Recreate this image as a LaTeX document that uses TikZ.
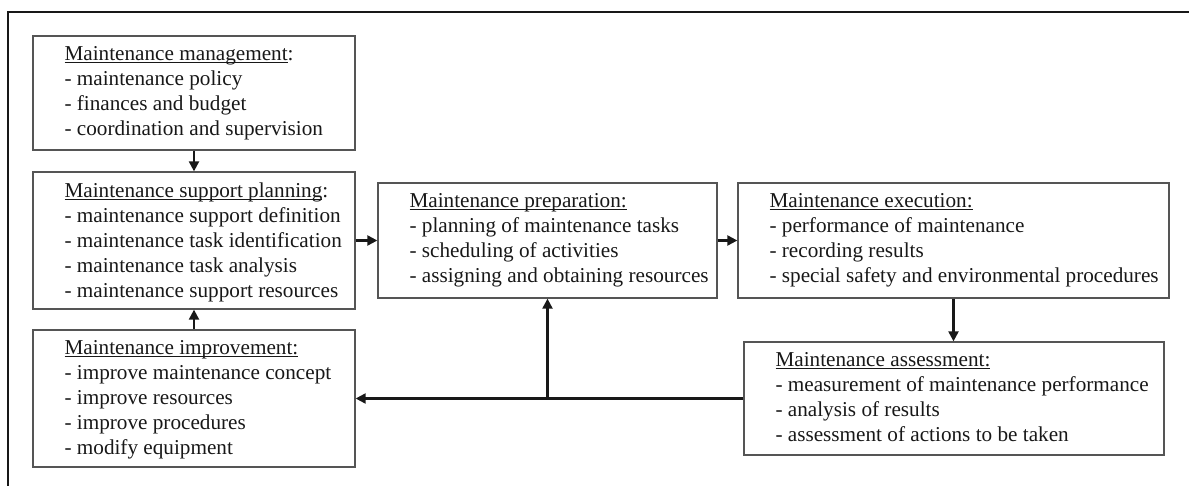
\documentclass[tikz,border=0pt]{standalone}
\usepackage{fontspec}
\setmainfont{Liberation Serif}
\usetikzlibrary{arrows.meta}
\definecolor{ink}{HTML}{181818}
\definecolor{boxline}{HTML}{555555}
\newsavebox{\myulbox}
\newcommand\myul[1]{\sbox{\myulbox}{#1}\rlap{\rule[-2.8pt]{\wd\myulbox}{0.9pt}}\usebox{\myulbox}}
\begin{document}
\begin{tikzpicture}[x=1pt,y=-1pt,
  box/.style={draw=boxline,line width=1.3pt,rectangle,inner sep=0pt},
  txt/.style={anchor=north west,inner sep=0pt,align=left,text=ink,
    font=\fontsize{21.2}{25}\selectfont,xshift=32pt,yshift=-11pt},
  arr/.style={draw=ink,line width=2.2pt,-{Triangle[length=10pt,width=10pt]}}]
\useasboundingbox (0,0) rectangle (1189,486);
\draw[ink,line width=2pt] (8,486) -- (8,12) -- (1189,12);
% boxes
\node[box,minimum width=322pt,minimum height=114pt] (mgmt) at (194,93) {};
\node[box,minimum width=322pt,minimum height=137pt] (plan) at (194,240.5) {};
\node[box,minimum width=322pt,minimum height=137pt] (impr) at (194,398.5) {};
\node[box,minimum width=339pt,minimum height=115pt] (prep) at (547.5,240.5) {};
\node[box,minimum width=431pt,minimum height=115pt] (exec) at (953.5,240.5) {};
\node[box,minimum width=420pt,minimum height=113pt] (assess) at (954,398.5) {};
% texts
\node[txt] (tmgmt) at (mgmt.north west) {\myul{Maintenance management}:\\- maintenance policy\\- finances and budget\\- coordination and supervision};
\node[txt] (tplan) at (plan.north west) {\myul{Maintenance support planning}:\\- maintenance support definition\\- maintenance task identification\\- maintenance task analysis\\- maintenance support resources};
\node[txt] (timpr) at (impr.north west) {\myul{Maintenance improvement:}\\- improve maintenance concept\\- improve resources\\- improve procedures\\- modify equipment};
\node[txt] (tprep) at (prep.north west) {\myul{Maintenance preparation:}\\- planning of maintenance tasks\\- scheduling of activities\\- assigning and obtaining resources};
\node[txt] (texec) at (exec.north west) {\myul{Maintenance execution:}\\- performance of maintenance\\- recording results\\- special safety and environmental procedures};
\node[txt] (tassess) at (assess.north west) {\myul{Maintenance assessment:}\\- measurement of maintenance performance\\- analysis of results\\- assessment of actions to be taken};
% connectors
\draw[arr] (mgmt.south) -- (plan.north);
\draw[arr] (impr.north) -- (plan.south);
\draw[arr] (plan.east) -- (prep.west);
\draw[arr] (prep.east) -- (exec.west);
\draw[arr] (exec.south) -- (exec.south |- assess.north);
\coordinate (j) at (prep.south |- impr.east);
\draw[arr] (assess.west) -- (impr.east);
\draw[arr] (j) -- (prep.south);
\end{tikzpicture}
\end{document}
